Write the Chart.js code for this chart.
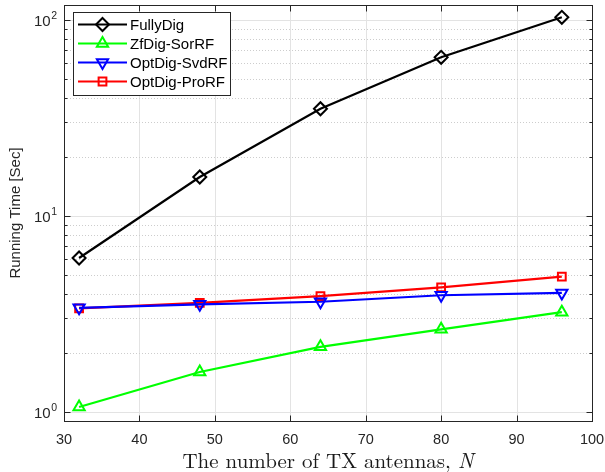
<!DOCTYPE html>
<html>
<head>
<meta charset="utf-8">
<script src="https://cdn.jsdelivr.net/npm/chart.js@4.4.1/dist/chart.umd.min.js"></script>
<style>
  html, body { margin: 0; padding: 0; background: #fff; }
  #wrap { width: 605px; height: 472px; }
</style>
</head>
<body>
<div id="wrap"><canvas id="myChart"></canvas></div>
<script>
//  Data
const antennas = [32, 48, 64, 80, 96];
const fully_dig = [6.1, 15.8, 35.2, 64.4, 103];
const zfdig_sorrf = [1.06, 1.60, 2.15, 2.64, 3.23];
const optdig_svdrf = [3.40, 3.54, 3.65, 3.94, 4.05];
const optdig_prorf = [3.38, 3.60, 3.90, 4.32, 4.90];
const x_ticks = [30, 40, 50, 60, 70, 80, 90, 100];
const y_ticks = [1, 2, 3, 4, 5, 6, 7, 8, 9, 10, 20, 30, 40, 50, 60, 70, 80, 90, 100];
const y_labels = {1: '0', 10: '1', 100: '2'};

const AXIS = '#262626';
const SANS = "'Liberation Sans', Arial, sans-serif";
const SERIF = "'Latin Modern Roman', 'Liberation Serif', 'DejaVu Serif', serif";

function series(label, data, color, style, radius, rot) {
    return {
        label: label,
        data: data,
        borderColor: color,
        backgroundColor: color,
        borderWidth: 2.2,
        pointStyle: style,
        pointRadius: radius,
        pointHoverRadius: radius,
        pointRotation: rot || 0,
        pointBorderWidth: 2,
        pointBorderColor: color,
        pointBackgroundColor: 'rgba(0,0,0,0)',
        tension: 0,
        fill: false,
        clip: false
    };
}

//  hollow marker for the legend
function draw_marker(ctx, style, x, y, r, rot) {
    ctx.beginPath();
    if (style === 'rectRot') {
        ctx.moveTo(x, y - r); ctx.lineTo(x + r, y); ctx.lineTo(x, y + r); ctx.lineTo(x - r, y);
        ctx.closePath();
    } else if (style === 'triangle') {
        const s = rot ? -1 : 1;
        ctx.moveTo(x, y - s * r);
        ctx.lineTo(x + Math.sin(2 * Math.PI / 3) * r, y + s * r / 2);
        ctx.lineTo(x - Math.sin(2 * Math.PI / 3) * r, y + s * r / 2);
        ctx.closePath();
    } else if (style === 'rect') {
        const h = r * Math.SQRT1_2;
        ctx.rect(x - h, y - h, 2 * h, 2 * h);
    }
    ctx.stroke();
}

//  MATLAB-ish grid, box, inward ticks, labels and legend
const matlab_axes = {
    id: 'matlab_axes',
    beforeDatasetsDraw(chart) {
        const ctx = chart.ctx;
        const a = chart.chartArea;
        const xs = chart.scales.x, ys = chart.scales.y;
        ctx.save();
        ctx.lineWidth = 1;
        ctx.strokeStyle = '#e3e3e3';
        x_ticks.forEach(v => {
            const px = Math.round(xs.getPixelForValue(v)) + 0.5;
            ctx.beginPath(); ctx.moveTo(px, a.top); ctx.lineTo(px, a.bottom); ctx.stroke();
        });
        y_ticks.forEach(v => {
            const py = Math.round(ys.getPixelForValue(v)) + 0.5;
            const major = (v in y_labels);
            ctx.strokeStyle = major ? '#e3e3e3' : '#cdcdcd';
            ctx.setLineDash(major ? [] : [1, 2]);
            ctx.beginPath(); ctx.moveTo(a.left, py); ctx.lineTo(a.right, py); ctx.stroke();
        });
        ctx.restore();
    },
    afterDraw(chart) {
        const ctx = chart.ctx;
        const a = chart.chartArea;
        const xs = chart.scales.x, ys = chart.scales.y;
        ctx.save();
        ctx.strokeStyle = AXIS;
        ctx.lineWidth = 1;
        const L = Math.round(a.left) + 0.5, R = Math.round(a.right) + 0.5;
        const T = Math.round(a.top) + 0.5, B = Math.round(a.bottom) + 0.5;
        ctx.strokeRect(L, T, R - L, B - T);
        // x ticks, bottom and top
        x_ticks.forEach(v => {
            const px = Math.round(xs.getPixelForValue(v)) + 0.5;
            ctx.beginPath();
            ctx.moveTo(px, B); ctx.lineTo(px, B - 6);
            ctx.moveTo(px, T); ctx.lineTo(px, T + 6);
            ctx.stroke();
        });
        // y ticks, left and right
        y_ticks.forEach(v => {
            const py = Math.round(ys.getPixelForValue(v)) + 0.5;
            const len = (v in y_labels) ? 6 : 3;
            ctx.beginPath();
            ctx.moveTo(L, py); ctx.lineTo(L + len, py);
            ctx.moveTo(R, py); ctx.lineTo(R - len, py);
            ctx.stroke();
        });
        // y labels 10^k
        ctx.fillStyle = AXIS;
        ctx.textBaseline = 'alphabetic';
        Object.keys(y_labels).forEach(k => {
            const py = ys.getPixelForValue(Number(k));
            ctx.font = '10.5px ' + SANS;
            ctx.textAlign = 'right';
            ctx.fillText(y_labels[k], a.left - 7, py - 1);
            const ew = ctx.measureText(y_labels[k]).width;
            ctx.font = '15px ' + SANS;
            ctx.fillText('10', a.left - 7 - ew - 0.5, py + 6);
        });
        // y title
        ctx.save();
        ctx.translate(16, (a.top + a.bottom) / 2);
        ctx.rotate(-Math.PI / 2);
        ctx.textAlign = 'center';
        ctx.textBaseline = 'middle';
        ctx.font = '15px ' + SANS;
        ctx.fillText('Running Time [Sec]', 0, 0);
        ctx.restore();
        // x title with italic N
        ctx.fillStyle = '#1a1a1a';
        ctx.textBaseline = 'middle';
        ctx.textAlign = 'left';
        const t1 = 'The number of TX antennas, ';
        ctx.font = '21px ' + SERIF;
        const w1 = ctx.measureText(t1).width;
        ctx.font = 'italic 21px ' + SERIF;
        const w2 = ctx.measureText('N').width;
        const x0 = (a.left + a.right) / 2 - (w1 + w2) / 2;
        ctx.font = '21px ' + SERIF;
        ctx.fillText(t1, x0, 462);
        ctx.font = 'italic 21px ' + SERIF;
        ctx.fillText('N', x0 + w1, 462);
        // legend
        const bx = 73.5, by = 12.5, bw = 157, bh = 83;
        ctx.fillStyle = '#fff';
        ctx.fillRect(bx, by, bw, bh);
        ctx.strokeStyle = AXIS;
        ctx.lineWidth = 1;
        ctx.strokeRect(bx, by, bw, bh);
        chart.data.datasets.forEach((ds, i) => {
            const ry = 24.5 + i * 19;
            ctx.strokeStyle = ds.borderColor;
            ctx.lineWidth = 2.2;
            ctx.beginPath(); ctx.moveTo(78, ry); ctx.lineTo(127, ry); ctx.stroke();
            ctx.lineWidth = 2;
            draw_marker(ctx, ds.pointStyle, 102.5, ry, ds.pointRadius, ds.pointRotation);
            ctx.fillStyle = '#000';
            ctx.font = '15px ' + SANS;
            ctx.textAlign = 'left';
            ctx.textBaseline = 'middle';
            ctx.fillText(ds.label, 130, ry + 1);
        });
        ctx.restore();
    }
};

function no_pad(s) {
    s.paddingLeft = 0; s.paddingRight = 0; s.paddingTop = 0; s.paddingBottom = 0;
}

function draw_graph() {
    const ctx = document.getElementById('myChart');
    new Chart(ctx, {
        type: 'line',
        data: {
            datasets: [
                series('FullyDig', antennas.map((n, i) => ({x: n, y: fully_dig[i]})), '#000000', 'rectRot', 6.5),
                series('ZfDig-SorRF', antennas.map((n, i) => ({x: n, y: zfdig_sorrf[i]})), '#00ff00', 'triangle', 6.5),
                series('OptDig-SvdRF', antennas.map((n, i) => ({x: n, y: optdig_svdrf[i]})), '#0000ff', 'triangle', 6.5, 180),
                series('OptDig-ProRF', antennas.map((n, i) => ({x: n, y: optdig_prorf[i]})), '#ff0000', 'rect', 5.5)
            ]
        },
        options: {
            responsive: true,
            maintainAspectRatio: false,
            animation: false,
            layout: { autoPadding: false, padding: { left: 0, right: 13, top: 5, bottom: 0 } },
            plugins: { legend: { display: false }, tooltip: { enabled: false } },
            scales: {
                x: {
                    type: 'linear',
                    min: 30,
                    max: 100,
                    afterBuildTicks: s => { s.ticks = x_ticks.map(v => ({value: v})); },
                    afterFit: s => { s.height = 51; no_pad(s); },
                    grid: { display: false, drawTicks: false },
                    border: { display: false },
                    ticks: {
                        color: AXIS,
                        font: { family: SANS, size: 14.5 },
                        padding: 10,
                        maxRotation: 0,
                        autoSkip: false
                    }
                },
                y: {
                    type: 'logarithmic',
                    min: 0.9,
                    max: 119,
                    afterBuildTicks: s => { s.ticks = y_ticks.map(v => ({value: v})); },
                    afterFit: s => { s.width = 64; no_pad(s); },
                    grid: { display: false, drawTicks: false },
                    border: { display: false },
                    ticks: { display: false }
                }
            }
        },
        plugins: [matlab_axes]
    });
}
draw_graph();
</script>
</body>
</html>
